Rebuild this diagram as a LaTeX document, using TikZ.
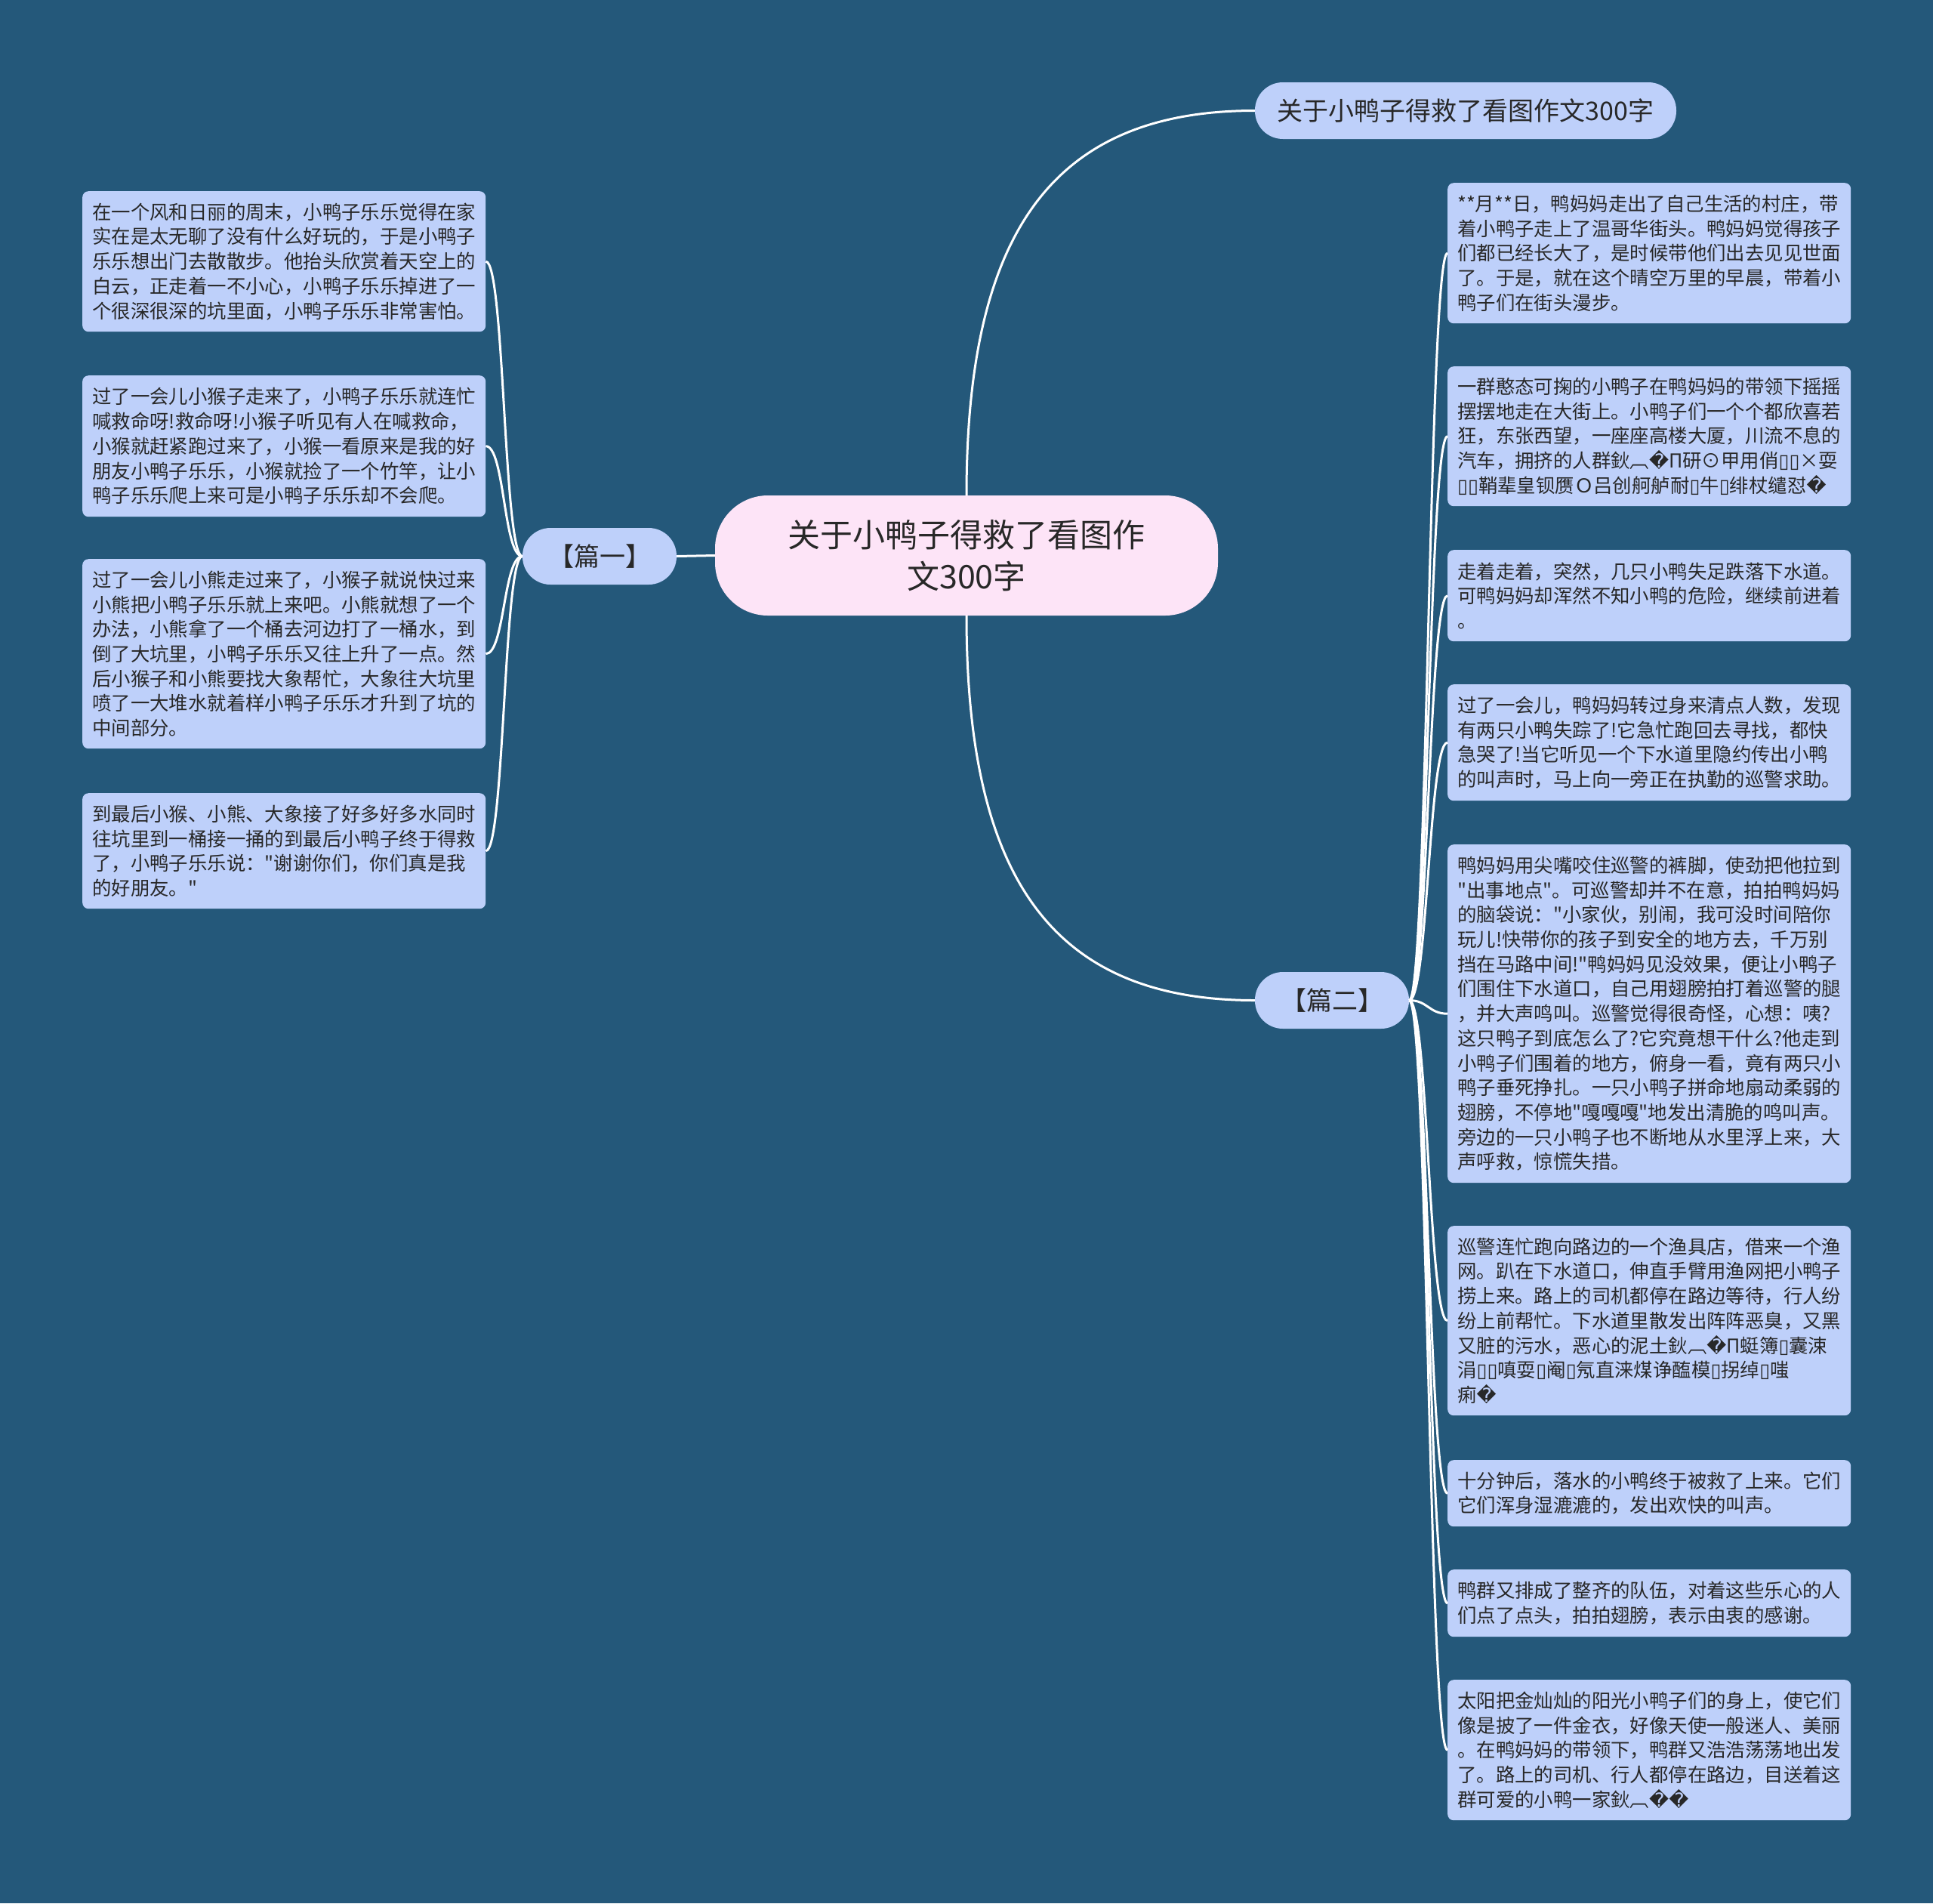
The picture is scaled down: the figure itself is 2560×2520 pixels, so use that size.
\documentclass[tikz,border=0pt]{standalone}
\usepackage{fontspec}
\newfontfamily\cjk{Noto Sans CJK SC}
\newfontfamily\dvs{DejaVu Sans}
\newcommand{\rp}{{\dvs\char"FFFD}}
\newcommand{\bx}{{\dvs\char"25AF}}
\definecolor{bgc}{RGB}{36,88,122}
\definecolor{leafc}{RGB}{190,208,250}
\definecolor{pinkc}{RGB}{253,228,247}
\definecolor{txtc}{RGB}{40,40,40}
\tikzset{
  leafbox/.style={fill=leafc, rounded corners=8pt, text width=508pt, inner xsep=13pt, inner ysep=0pt,
    minimum width=534pt, align=left, text=txtc, anchor=north west,
    font=\cjk\fontsize{25.4}{32.7}\selectfont},
  pillbox/.style={fill=leafc, rounded corners=37pt, minimum height=75pt, inner sep=0pt, text=txtc,
    font=\cjk\fontsize{34}{40}\selectfont},
  centerbox/.style={fill=pinkc, rounded corners=70pt, minimum width=666pt, minimum height=159pt,
    inner sep=0pt, align=center, text=txtc, font=\cjk\fontsize{43}{55}\selectfont},
  link/.style={draw=white, line width=3pt}
}
\begin{document}
\begin{tikzpicture}[x=1pt,y=-1pt]
\fill[bgc] (0,0) rectangle (2560,2520);
\useasboundingbox (0,0) rectangle (2560,2520);

\node[centerbox] (c) at (1280,735.5) {关于小鸭子得救了看图作\\文300字};
\node[pillbox, minimum width=558pt] (t) at (1941,146.5) {关于小鸭子得救了看图作文300字};
\node[pillbox, minimum width=204pt] (p1) at (794,736.5) {【篇一】};
\node[pillbox, minimum width=204pt] (p2) at (1764,1324.5) {【篇二】};

\node[leafbox, minimum height=186pt] (l1) at (109,253) {在一个风和日丽的周末，小鸭子乐乐觉得在家\\实在是太无聊了没有什么好玩的，于是小鸭子\\乐乐想出门去散散步。他抬头欣赏着天空上的\\白云，正走着一不小心，小鸭子乐乐掉进了一\\个很深很深的坑里面，小鸭子乐乐非常害怕。};
\node[leafbox, minimum height=187pt] (l2) at (109,497) {过了一会儿小猴子走来了，小鸭子乐乐就连忙\\喊救命呀!救命呀!小猴子听见有人在喊救命，\\小猴就赶紧跑过来了，小猴一看原来是我的好\\朋友小鸭子乐乐，小猴就捡了一个竹竿，让小\\鸭子乐乐爬上来可是小鸭子乐乐却不会爬。};
\node[leafbox, minimum height=251pt] (l3) at (109,740) {过了一会儿小熊走过来了，小猴子就说快过来\\小熊把小鸭子乐乐就上来吧。小熊就想了一个\\办法，小熊拿了一个桶去河边打了一桶水，到\\倒了大坑里，小鸭子乐乐又往上升了一点。然\\后小猴子和小熊要找大象帮忙，大象往大坑里\\喷了一大堆水就着样小鸭子乐乐才升到了坑的\\中间部分。};
\node[leafbox, minimum height=153pt] (l4) at (109,1050) {到最后小猴、小熊、大象接了好多好多水同时\\往坑里到一桶接一捅的到最后小鸭子终于得救\\了，小鸭子乐乐说："谢谢你们，你们真是我\\的好朋友。"};

\node[leafbox, minimum height=186pt] (r1) at (1917,242) {**月**日，鸭妈妈走出了自己生活的村庄，带\\着小鸭子走上了温哥华街头。鸭妈妈觉得孩子\\们都已经长大了，是时候带他们出去见见世面\\了。于是，就在这个晴空万里的早晨，带着小\\鸭子们在街头漫步。};
\node[leafbox, minimum height=185pt] (r2) at (1917,485) {一群憨态可掬的小鸭子在鸭妈妈的带领下摇摇\\摆摆地走在大街上。小鸭子们一个个都欣喜若\\狂，东张西望，一座座高楼大厦，川流不息的\\汽车，拥挤的人群鈥︹\rp Π研⊙甲用俏\bx\bx ×耍\\\bx\bx 鞘辈皇钡赝Ｏ吕创舸舻耐\bx 牛\bx 绯杖缱怼\rp};
\node[leafbox, minimum height=121pt] (r3) at (1917,728) {走着走着，突然，几只小鸭失足跌落下水道。\\可鸭妈妈却浑然不知小鸭的危险，继续前进着\\。};
\node[leafbox, minimum height=154pt] (r4) at (1917,906) {过了一会儿，鸭妈妈转过身来清点人数，发现\\有两只小鸭失踪了!它急忙跑回去寻找，都快\\急哭了!当它听见一个下水道里隐约传出小鸭\\的叫声时，马上向一旁正在执勤的巡警求助。};
\node[leafbox, minimum height=448pt] (r5) at (1917,1118) {鸭妈妈用尖嘴咬住巡警的裤脚，使劲把他拉到\\"出事地点"。可巡警却并不在意，拍拍鸭妈妈\\的脑袋说："小家伙，别闹，我可没时间陪你\\玩儿!快带你的孩子到安全的地方去，千万别\\挡在马路中间!"鸭妈妈见没效果，便让小鸭子\\们围住下水道口，自己用翅膀拍打着巡警的腿\\，并大声鸣叫。巡警觉得很奇怪，心想：咦?\\这只鸭子到底怎么了?它究竟想干什么?他走到\\小鸭子们围着的地方，俯身一看，竟有两只小\\鸭子垂死挣扎。一只小鸭子拼命地扇动柔弱的\\翅膀，不停地"嘎嘎嘎"地发出清脆的鸣叫声。\\旁边的一只小鸭子也不断地从水里浮上来，大\\声呼救，惊慌失措。};
\node[leafbox, minimum height=251pt] (r6) at (1917,1623) {巡警连忙跑向路边的一个渔具店，借来一个渔\\网。趴在下水道口，伸直手臂用渔网把小鸭子\\捞上来。路上的司机都停在路边等待，行人纷\\纷上前帮忙。下水道里散发出阵阵恶臭，又黑\\又脏的污水，恶心的泥土鈥︹\rp Π蜓簿\bx 囊涑\\涓\bx\bx 嗔耍\bx 阉\bx 氖直涞煤诤醢模\bx 拐绰\bx 嗤\\痢\rp};
\node[leafbox, minimum height=88pt] (r7) at (1917,1933) {十分钟后，落水的小鸭终于被救了上来。它们\\它们浑身湿漉漉的，发出欢快的叫声。};
\node[leafbox, minimum height=89pt] (r8) at (1917,2078) {鸭群又排成了整齐的队伍，对着这些乐心的人\\们点了点头，拍拍翅膀，表示由衷的感谢。};
\node[leafbox, minimum height=186pt] (r9) at (1917,2224) {太阳把金灿灿的阳光小鸭子们的身上，使它们\\像是披了一件金衣，好像天使一般迷人、美丽\\。在鸭妈妈的带领下，鸭群又浩浩荡荡地出发\\了。路上的司机、行人都停在路边，目送着这\\群可爱的小鸭一家鈥︹\rp\rp};

\draw[link] (c.north) .. controls +(0,-356) and +(-262,0) .. (t.west);
\draw[link] (c.south) .. controls +(0,356) and +(-262,0) .. (p2.west);
\draw[link] (c.west) -- (p1.east);
\foreach \n in {l1,l2,l3,l4}
  \draw[link] (p1.west) .. controls +(-25,0) and +(25,0) .. (\n.east);
\foreach \n in {r1,r2,r3,r4,r5,r6,r7,r8,r9}
  \draw[link] (p2.east) .. controls +(25,0) and +(-25,0) .. (\n.west);
\end{tikzpicture}
\end{document}
